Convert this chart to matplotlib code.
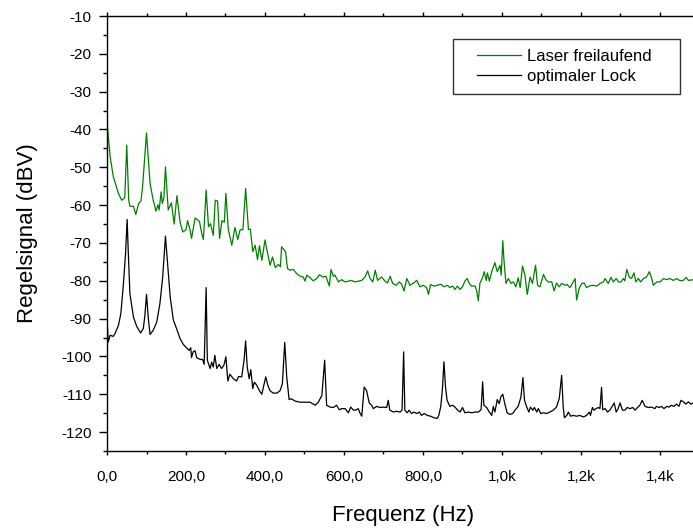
import numpy as np
from matplotlib import pyplot as plt
from matplotlib.ticker import MultipleLocator
from matplotlib.lines import Line2D
from matplotlib.legend_handler import HandlerLine2D

# (Hz, dBV)
# green trace, laser free running
free_low = [(0, -18.1), (1, -39.3), (8, -47.2), (16, -52.5), (29, -56.9), (37, -58.7),
            (45, -58.0), (50, -44.1), (55, -58.7), (58, -60.3), (67, -60.3), (73, -62.5),
            (80, -59.6), (86, -58.9), (90, -55.2), (100, -40.9), (109, -54.3), (117, -58.7),
            (124, -61.6), (129, -59.9), (132, -61.3), (137, -56.5), (140, -59.6), (144, -58.0),
            (148, -49.9), (155, -61.3), (163, -59.4), (170, -65.0), (177, -57.5), (185, -64.5),
            (192, -67.1), (200, -66.5), (204, -64.1), (210, -66.4), (214, -68.8), (223, -63.4),
            (234, -64.3), (240, -67.6), (244, -69.1), (251, -56.0), (257, -65.7), (262, -64.9),
            (269, -68.0), (274, -58.7), (280, -58.9), (285, -68.8), (291, -64.1), (297, -64.5),
            (301, -56.9), (307, -66.4), (316, -70.6), (324, -65.9), (331, -69.1), (337, -66.5),
            (344, -66.5), (351, -55.6), (358, -66.4), (363, -66.4), (369, -72.3), (375, -70.6),
            (381, -74.4), (386, -70.7), (392, -74.6), (400, -69.2), (406, -72.5), (413, -75.9),
            (419, -73.7), (426, -76.5), (434, -75.7), (439, -76.3), (442, -71.0), (452, -72.3)]
free_high = [(457, -76.8), (463, -77.2), (472, -77.0), (480, -78.1), (489, -78.8), (497, -79.0),
             (501, -80.1), (506, -78.5), (514, -79.2), (522, -80.0), (531, -79.4), (538, -78.4),
             (546, -79.0), (554, -78.8), (563, -81.4), (567, -77.0), (573, -78.8), (577, -78.5),
             (586, -80.3), (594, -79.7), (603, -80.3), (611, -80.1), (619, -79.9), (628, -80.3),
             (636, -80.1), (645, -79.9), (653, -79.0), (660, -77.4), (666, -79.4), (673, -80.3),
             (679, -77.2), (685, -79.9), (695, -79.0), (704, -80.1), (710, -80.6), (717, -78.8),
             (723, -80.7), (732, -81.2), (740, -80.3), (746, -80.9), (752, -82.7), (759, -79.4),
             (767, -81.2), (776, -80.6), (784, -79.9), (792, -81.6), (801, -81.2), (809, -81.8),
             (814, -83.6), (819, -81.0), (828, -81.4), (836, -81.2), (845, -80.9), (853, -81.6),
             (862, -81.2), (868, -81.8), (875, -81.4), (881, -82.3), (887, -81.4), (894, -82.3),
             (900, -81.6), (906, -80.1), (912, -79.4), (917, -80.7), (923, -81.4), (932, -81.4),
             (936, -82.7), (940, -85.3), (944, -80.7), (951, -79.1), (955, -77.6), (960, -79.9),
             (963, -77.9), (968, -80.1), (974, -77.6), (982, -75.2), (988, -77.6), (995, -75.9),
             (998, -78.5), (1002, -69.4), (1005, -74.6), (1010, -80.7), (1016, -79.4),
             (1023, -80.7), (1029, -80.3), (1035, -81.6), (1041, -79.2), (1046, -81.8),
             (1052, -76.1), (1058, -78.5), (1064, -83.6), (1071, -79.0), (1077, -80.7),
             (1085, -75.9), (1090, -81.2), (1096, -81.6), (1105, -78.3), (1111, -79.7),
             (1117, -80.3), (1126, -80.3), (1132, -82.7), (1138, -80.6), (1145, -81.6),
             (1151, -80.7), (1160, -81.2), (1165, -81.0), (1172, -81.8), (1179, -80.6),
             (1185, -79.4), (1189, -85.1), (1195, -82.1), (1202, -80.7), (1208, -80.6),
             (1214, -81.8), (1223, -81.3), (1231, -81.2), (1240, -81.4), (1248, -80.7),
             (1257, -80.3), (1261, -79.4), (1269, -80.7), (1276, -79.1), (1282, -80.3),
             (1289, -79.4), (1295, -80.3), (1301, -80.3), (1307, -79.4), (1311, -80.0),
             (1316, -77.0), (1322, -79.0), (1328, -79.4), (1334, -77.9), (1339, -80.3),
             (1345, -79.4), (1351, -80.3), (1358, -79.4), (1366, -79.0), (1373, -77.6),
             (1379, -79.4), (1383, -81.2), (1392, -80.3), (1400, -80.3), (1409, -79.4),
             (1417, -79.7), (1425, -79.4), (1434, -79.9), (1442, -79.4), (1451, -80.0),
             (1459, -79.9), (1466, -79.1), (1472, -79.9), (1485, -79.7)]

# black trace, optimal lock
lock_low = [(0, -89.6), (3, -96.2), (8, -94.4), (16, -94.7), (20, -94.0), (29, -91.8),
            (35, -88.7), (41, -81.6), (47, -72.8), (51, -63.8), (54, -72.8), (58, -83.4),
            (67, -89.6), (75, -92.0), (85, -93.8), (92, -92.6), (96, -89.1), (100, -83.6),
            (105, -90.4), (109, -94.2), (117, -93.1), (126, -90.9), (134, -86.0), (141, -79.0),
            (148, -68.2), (154, -76.3), (160, -84.3), (168, -90.4), (176, -92.6), (185, -95.3),
            (193, -96.8), (202, -97.8), (208, -98.4), (212, -97.7), (214, -100.3), (218, -98.8),
            (223, -98.5), (227, -100.3), (236, -100.8), (242, -100.8), (246, -102.1),
            (251, -81.8), (254, -101.0), (261, -103.2), (265, -101.5), (269, -102.8),
            (273, -99.7), (278, -103.2), (284, -102.1), (290, -103.2), (296, -102.3),
            (301, -100.1), (306, -106.5), (311, -104.7), (320, -105.9), (328, -106.5),
            (333, -105.3), (341, -105.4), (347, -101.0), (351, -95.9), (355, -102.8),
            (360, -105.9), (364, -103.5), (369, -108.5), (373, -106.8), (379, -107.6),
            (386, -109.1), (392, -110.0), (396, -108.1), (402, -105.4), (407, -107.6),
            (413, -109.1), (421, -109.7), (430, -109.7), (438, -109.1), (444, -107.2),
            (450, -96.3), (455, -105.4), (461, -111.4), (467, -111.2), (476, -111.8),
            (489, -112.1), (501, -112.1), (514, -112.1), (527, -112.9), (535, -112.1),
            (544, -110.3), (551, -101.0), (556, -112.9), (565, -113.4), (573, -113.5),
            (581, -112.9), (588, -114.1), (594, -113.8), (603, -113.8), (611, -114.9),
            (617, -113.4), (624, -114.2), (630, -114.2), (636, -113.8), (641, -115.1),
            (645, -115.8), (651, -108.1), (657, -109.0), (664, -112.3), (670, -112.9),
            (674, -113.8), (683, -113.2), (691, -113.5)]
lock_high = [(699, -113.4), (708, -113.5), (712, -111.6), (716, -114.2), (725, -114.7),
             (733, -114.5), (742, -114.7), (747, -114.2), (751, -98.8), (754, -114.2),
             (760, -114.9), (765, -114.2), (771, -115.1), (777, -114.7), (784, -115.1),
             (791, -114.7), (796, -115.6), (803, -115.1), (811, -115.6), (819, -115.8),
             (828, -116.2), (836, -116.4), (840, -115.6), (845, -113.2), (849, -108.9),
             (853, -101.4), (857, -108.1), (861, -111.6), (868, -113.2), (875, -112.9),
             (881, -113.4), (887, -114.1), (894, -114.7), (900, -113.5), (906, -114.9),
             (915, -114.7), (923, -114.9), (932, -114.7), (940, -114.7), (947, -114.1),
             (951, -106.7), (954, -112.9), (961, -113.5), (968, -114.7), (974, -115.6),
             (978, -113.2), (982, -114.7), (988, -111.4), (993, -112.5), (997, -110.7),
             (1002, -110.0), (1007, -112.5), (1013, -114.9), (1020, -115.3), (1027, -115.1),
             (1033, -114.2), (1041, -113.2), (1048, -110.7), (1053, -105.6), (1057, -111.6),
             (1062, -113.2), (1068, -114.7), (1072, -113.4), (1078, -114.2), (1082, -113.5),
             (1088, -114.7), (1092, -113.8), (1098, -115.1), (1105, -114.9), (1113, -115.1),
             (1121, -114.7), (1130, -114.2), (1138, -113.4), (1145, -111.1), (1151, -105.0),
             (1155, -113.4), (1158, -116.2), (1164, -115.6), (1168, -114.7), (1174, -115.8),
             (1180, -115.6), (1189, -115.8), (1197, -115.6), (1206, -116.0), (1214, -115.6),
             (1221, -114.7), (1224, -115.6), (1229, -113.5), (1233, -114.2), (1238, -113.8),
             (1244, -113.5), (1248, -113.8), (1252, -108.2), (1255, -114.1), (1261, -113.8),
             (1267, -114.7), (1273, -114.2), (1279, -113.2), (1284, -112.3), (1289, -114.7),
             (1294, -113.8), (1299, -112.3), (1305, -114.2), (1311, -114.2), (1317, -113.5),
             (1324, -113.8), (1331, -113.5), (1337, -114.2), (1343, -113.5), (1349, -112.9),
             (1355, -111.6), (1362, -113.2), (1370, -113.5), (1379, -113.4), (1387, -113.8),
             (1391, -113.2), (1398, -113.5), (1404, -113.2), (1410, -113.8), (1417, -113.2),
             (1423, -113.4), (1429, -112.9), (1435, -113.2), (1442, -112.6), (1448, -113.2),
             (1453, -111.6), (1459, -112.0), (1465, -112.6), (1472, -112.0), (1478, -112.6),
             (1484, -112.3)]

series_names = ['Laser freilaufend', 'optimaler Lock']
x_ticks = [0, 200, 400, 600, 800, 1000, 1200, 1400]
x_tick_labels = ['0,0', '200,0', '400,0', '600,0', '800,0', '1,0k', '1,2k', '1,4k']
y_ticks = [-10, -20, -30, -40, -50, -60, -70, -80, -90, -100, -110, -120]

plt.rcParams['font.family'] = ['Liberation Sans', 'DejaVu Sans']
plt.rcParams['axes.unicode_minus'] = False

free_f, free_db = zip(*(free_low + free_high))
lock_f, lock_db = zip(*(lock_low + lock_high))

fig = plt.figure(figsize=(6.93, 5.28), dpi=100)
ax = fig.add_axes([107/693, 77/528, 592.5/693, 435/528])

ax.plot(free_f, free_db, color='#008000', lw=0.9, label=series_names[0])
ax.plot(lock_f, lock_db, color='black', lw=0.9, label=series_names[1])

ax.set_xlim(0, 1500)
ax.set_ylim(-125, -10)
ax.set_xticks(x_ticks)
ax.set_xticklabels(x_tick_labels)
ax.set_yticks(y_ticks)
ax.xaxis.set_minor_locator(MultipleLocator(100))
ax.yaxis.set_minor_locator(MultipleLocator(5))
ax.tick_params(which='both', direction='out', width=1, labelsize=11)
ax.tick_params(axis='y', which='major', length=6, pad=5)
ax.tick_params(axis='y', which='minor', length=3)
ax.tick_params(axis='x', which='major', length=3, pad=11)
ax.tick_params(axis='x', which='minor', length=2.5)
ax.tick_params(axis='x', which='both', top=True)
for s in ['left', 'bottom', 'top']:
    ax.spines[s].set_linewidth(1.0)
ax.spines['right'].set_visible(False)

ax.set_xlabel('Frequenz (Hz)', fontsize=16, labelpad=15)
ax.set_ylabel('Regelsignal (dBV)', fontsize=16, labelpad=17)

# xpad leaves some blank room left of the legend lines
leg = ax.legend(loc='upper left', bbox_to_anchor=(0.584, 0.947, 0.383, 0), mode='expand',
                frameon=True, fancybox=False, fontsize=12, handlelength=3.5, borderpad=0.6,
                labelspacing=0.3, handletextpad=0.36, borderaxespad=0,
                handler_map={Line2D: HandlerLine2D(xpad=0.84)})
leg.get_frame().set_edgecolor('black')
leg.get_frame().set_linewidth(1.0)

plt.savefig('out.png', dpi=100)
